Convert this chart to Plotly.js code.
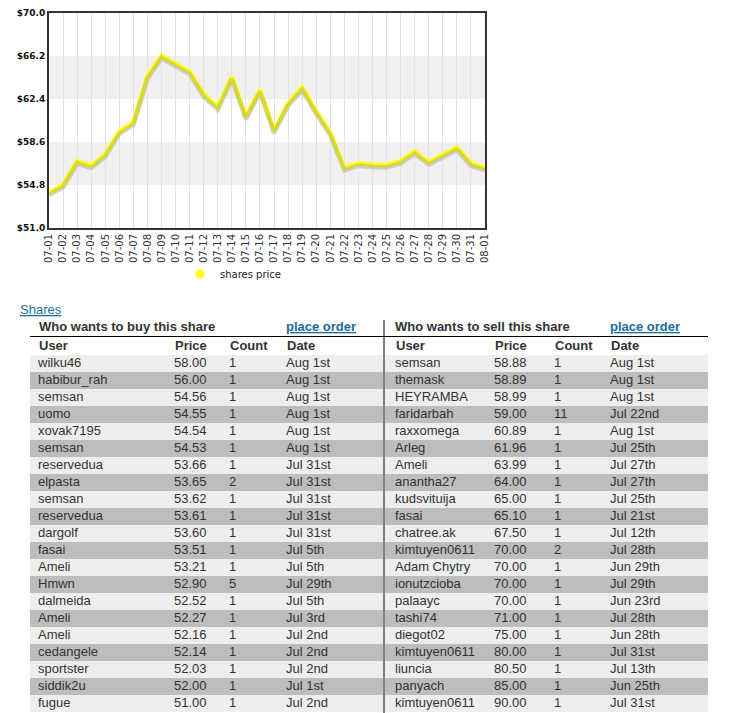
<!DOCTYPE html>
<html><head><meta charset="utf-8">
<script src="https://cdn.plot.ly/plotly-3.0.1.min.js"></script>
<style>html,body{margin:0;padding:0;background:#fff}#chart{width:735px;height:713px}</style>
</head><body><div id="chart"></div>
<script>
const dates = ['07-01','07-02','07-03','07-04','07-05','07-06','07-07','07-08','07-09','07-10','07-11','07-12','07-13','07-14','07-15','07-16','07-17','07-18','07-19','07-20','07-21','07-22','07-23','07-24','07-25','07-26','07-27','07-28','07-29','07-30','07-31','08-01'];
const prices = [54.1,54.8,56.9,56.5,57.5,59.5,60.3,64.4,66.2,65.5,64.8,62.8,61.65,64.35,60.8,63.2,59.6,62.0,63.4,61.3,59.4,56.3,56.7,56.6,56.55,56.9,57.75,56.8,57.5,58.1,56.7,56.3];
const yTicks = [51.0,54.8,58.6,62.4,66.2,70.0];
const yTickLabels = ['$51.0','$54.8','$58.6','$62.4','$66.2','$70.0'];
const seriesName = 'shares price';

const buyUsers = ['wilku46','habibur_rah','semsan','uomo','xovak7195','semsan','reservedua','elpasta','semsan','reservedua','dargolf','fasai','Ameli','Hmwn','dalmeida','Ameli','Ameli','cedangele','sportster','siddik2u','fugue'];
const buyPrices = [58.00,56.00,54.56,54.55,54.54,54.53,53.66,53.65,53.62,53.61,53.60,53.51,53.21,52.90,52.52,52.27,52.16,52.14,52.03,52.00,51.00];
const buyCounts = [1,1,1,1,1,1,1,2,1,1,1,1,1,5,1,1,1,1,1,1,1];
const buyDates = ['Aug 1st','Aug 1st','Aug 1st','Aug 1st','Aug 1st','Aug 1st','Jul 31st','Jul 31st','Jul 31st','Jul 31st','Jul 31st','Jul 5th','Jul 5th','Jul 29th','Jul 5th','Jul 3rd','Jul 2nd','Jul 2nd','Jul 2nd','Jul 1st','Jul 2nd'];

const sellUsers = ['semsan','themask','HEYRAMBA','faridarbah','raxxomega','Arleg','Ameli','anantha27','kudsvituija','fasai','chatree.ak','kimtuyen0611','Adam Chytry','ionutzcioba','palaayc','tashi74','diegot02','kimtuyen0611','liuncia','panyach','kimtuyen0611'];
const sellPrices = [58.88,58.89,58.99,59.00,60.89,61.96,63.99,64.00,65.00,65.10,67.50,70.00,70.00,70.00,70.00,71.00,75.00,80.00,80.50,85.00,90.00];
const sellCounts = [1,1,1,11,1,1,1,1,1,1,1,2,1,1,1,1,1,1,1,1,1];
const sellDates = ['Aug 1st','Aug 1st','Aug 1st','Jul 22nd','Aug 1st','Jul 25th','Jul 27th','Jul 27th','Jul 25th','Jul 21st','Jul 12th','Jul 28th','Jun 29th','Jul 29th','Jun 23rd','Jul 28th','Jun 28th','Jul 31st','Jul 13th','Jun 25th','Jul 31st'];
const colHeaders = ['User','Price','Count','Date'];

const W = 735, H = 713;
const px = v => v / W;
const py = v => 1 - v / H;
const FONT = 'Arial, "Liberation Sans", sans-serif';
const VFONT = '"DejaVu Sans", Verdana, sans-serif';

function tableTraces(cols, xa, ya, width, offsets) {
  const idx = cols[0].map((_, i) => i);
  const out = [{
    type: 'bar', orientation: 'h', xaxis: xa, yaxis: ya,
    y: idx, x: idx.map(() => width), base: 0, width: 1,
    marker: {color: idx.map(i => i % 2 === 0 ? '#eeeeee' : '#bdbdbd'), line: {width: 0}},
    showlegend: false, hoverinfo: 'skip'
  }];
  cols.forEach((col, c) => {
    out.push({
      type: 'scatter', mode: 'text', xaxis: xa, yaxis: ya,
      x: idx.map(() => offsets[c]), y: idx,
      text: col.map(v => c === 1 ? v.toFixed(2) : String(v)),
      textposition: 'middle right',
      textfont: {family: FONT, size: 13, color: '#333333'},
      showlegend: false, hoverinfo: 'skip', cliponaxis: false
    });
  });
  return out;
}

const traces = [
  {x: dates, y: prices, type: 'scatter', mode: 'lines', xaxis: 'x', yaxis: 'y2',
   line: {color: 'rgba(150,150,150,0.4)', width: 4.5}, showlegend: false, hoverinfo: 'skip'},
  {x: dates, y: prices, type: 'scatter', mode: 'lines', name: seriesName,
   line: {color: '#ffff00', width: 4.5}, showlegend: false},
  {x: [null], y: [null], type: 'scatter', mode: 'markers', name: seriesName,
   marker: {color: '#ffff00', size: 9, symbol: 'circle'}, showlegend: true},
  ...tableTraces([buyUsers, buyPrices, buyCounts, buyDates], 'x3', 'y3', 353, [8, 144, 199, 256]),
  ...tableTraces([sellUsers, sellPrices, sellCounts, sellDates], 'x4', 'y4', 323, [10, 109, 169, 225])
];

const ann = (x, y, text, size, color) => ({
  xref: 'paper', yref: 'paper', x: px(x), y: py(y), xanchor: 'left', yanchor: 'middle',
  text: text, showarrow: false, borderpad: 0,
  font: {family: FONT, size: size, color: color}
});

const headerX = [[38, 174, 229, 286], [395, 494, 554, 610]];
const annotations = [
  ann(19, 310, '<u>Shares</u>', 13, '#1d6fa5'),
  ann(38, 327, '<b>Who wants to buy this share</b>', 13, '#333333'),
  ann(285, 327, '<b><u>place order</u></b>', 13, '#1a6b9c'),
  ann(394, 327, '<b>Who wants to sell this share</b>', 13, '#333333'),
  ann(609, 327, '<b><u>place order</u></b>', 13, '#1a6b9c')
];
headerX.forEach(xs => xs.forEach((x, i) => annotations.push(ann(x, 345.5, '<b>' + colHeaders[i] + '</b>', 13, '#333333'))));

const hiddenAxis = (dom, rng, anchor) => ({domain: dom, range: rng, anchor: anchor, visible: false, fixedrange: true, showgrid: false, zeroline: false});

const layout = {
  width: W, height: H,
  margin: {l: 0, r: 0, t: 0, b: 0},
  paper_bgcolor: '#ffffff', plot_bgcolor: '#ffffff',
  showlegend: true, bargap: 0,
  legend: {x: px(180), xanchor: 'left', y: py(274), yanchor: 'middle', orientation: 'h',
           font: {family: VFONT, size: 10, color: '#222'},
           itemwidth: 30, bgcolor: 'rgba(0,0,0,0)'},
  xaxis: {domain: [px(49), px(485)], type: 'category', range: [0, dates.length - 1], anchor: 'y',
          showgrid: true, gridcolor: '#e3e3e3', gridwidth: 1,
          showline: true, mirror: true, linecolor: '#333333', linewidth: 2,
          ticks: '', tickangle: -90, tickfont: {family: VFONT, size: 10, color: '#333'},
          zeroline: false, fixedrange: true},
  yaxis: {domain: [py(228), py(13)], range: [51, 70], anchor: 'x',
          tickvals: yTicks, ticktext: yTickLabels.map(t => '<b>' + t + '</b>'),
          showgrid: false, zeroline: false,
          showline: true, mirror: true, linecolor: '#333333', linewidth: 2,
          ticks: '', ticklabelstandoff: 0,
          tickfont: {family: VFONT, size: 9, color: '#111'}, fixedrange: true},
  yaxis2: {domain: [py(228), py(13)], range: [51.2, 70.2], overlaying: 'y', visible: false, fixedrange: true},
  xaxis3: hiddenAxis([px(30), px(383)], [0, 353], 'y3'),
  yaxis3: hiddenAxis([0, py(355)], [20.56, -0.5], 'x3'),
  xaxis4: hiddenAxis([px(385), px(708)], [0, 323], 'y4'),
  yaxis4: hiddenAxis([0, py(355)], [20.56, -0.5], 'x4'),
  shapes: [
    {type: 'rect', xref: 'paper', yref: 'y', x0: px(49), x1: px(485), y0: 54.8, y1: 58.6, fillcolor: '#f0f0f0', line: {width: 0}, layer: 'below'},
    {type: 'rect', xref: 'paper', yref: 'y', x0: px(49), x1: px(485), y0: 62.4, y1: 66.2, fillcolor: '#f0f0f0', line: {width: 0}, layer: 'below'},
    {type: 'line', xref: 'paper', yref: 'paper', x0: px(384), x1: px(384), y0: py(320), y1: 0, line: {color: '#000', width: 1}},
    {type: 'line', xref: 'paper', yref: 'paper', x0: px(30), x1: px(708), y0: py(336.5), y1: py(336.5), line: {color: '#000', width: 1}}
  ],
  annotations: annotations
};

Plotly.newPlot('chart', traces, layout, {displayModeBar: false, staticPlot: true});
</script>
</body></html>
